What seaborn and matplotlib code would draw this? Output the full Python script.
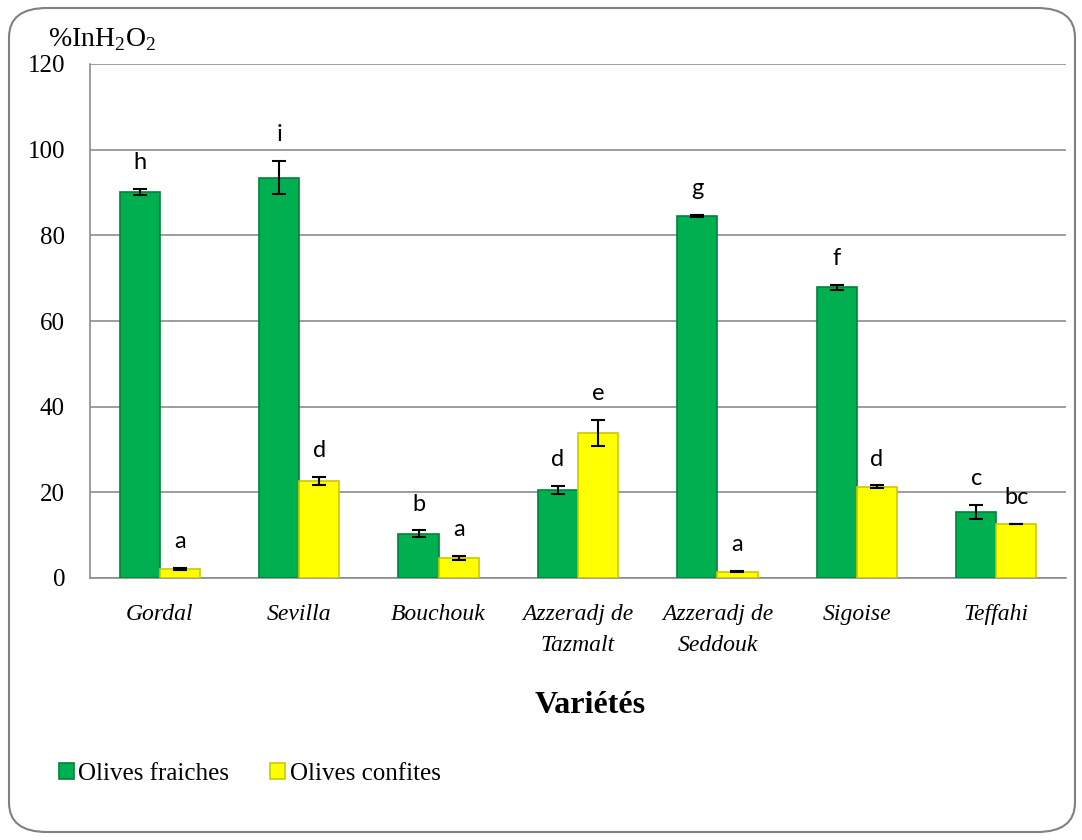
import pandas as pd
import matplotlib.pyplot as plt
import seaborn as sns
from matplotlib.patches import FancyBboxPatch, Patch

# données
varietes = ['Gordal', 'Sevilla', 'Bouchouk', 'Azzeradj de\nTazmalt',
            'Azzeradj de\nSeddouk', 'Sigoise', 'Teffahi']
fraiches = [90.1, 93.5, 10.3, 20.5, 84.5, 67.9, 15.4]
fraiches_err = [0.7, 3.9, 0.8, 1.0, 0.2, 0.6, 1.6]
confites = [2.1, 22.6, 4.7, 33.9, 1.5, 21.3, 12.6]
confites_err = [0.3, 1.0, 0.5, 3.0, 0.1, 0.3, 0.1]
lettres_fraiches = ['h', 'i', 'b', 'd', 'g', 'f', 'c']
lettres_confites = ['a', 'd', 'a', 'e', 'a', 'd', 'bc']
series = ['Olives fraiches', 'Olives confites']
y_ticks = [0, 20, 40, 60, 80, 100, 120]

sns.set_style('white')
plt.rcParams['font.family'] = ['Liberation Serif', 'DejaVu Serif']
plt.rcParams['mathtext.fontset'] = 'custom'
plt.rcParams['mathtext.rm'] = 'Liberation Serif'
plt.rcParams['text.color'] = 'black'
plt.rcParams['axes.labelcolor'] = 'black'

df = pd.DataFrame({
    'Variété': varietes * 2,
    'Type': [series[0]] * 7 + [series[1]] * 7,
    'Valeur': fraiches + confites,
})

couleurs = {series[0]: '#00B050', series[1]: '#FFFF00'}
bords = {series[0]: '#00823B', series[1]: '#C9C900'}

fig = plt.figure(figsize=(10.82, 8.4), dpi=100)
ax = fig.add_axes([90 / 1082, 1 - 578 / 840, (1066 - 90) / 1082, (578 - 64) / 840])

sns.barplot(data=df, x='Variété', y='Valeur', hue='Type', palette=couleurs,
            saturation=1, width=0.575, errorbar=None, legend=False, ax=ax, zorder=3)

erreurs = [fraiches_err, confites_err]
lettres = [lettres_fraiches, lettres_confites]
valeurs = [fraiches, confites]
conteneurs = list(ax.containers)
for k, cont in enumerate(conteneurs):
    for i, bar in enumerate(cont):
        bar.set_edgecolor(bords[series[k]])
        bar.set_linewidth(1.2)
        xc = bar.get_x() + bar.get_width() / 2
        ax.errorbar(xc, valeurs[k][i], yerr=erreurs[k][i], color='black',
                    capsize=5, capthick=1.5, elinewidth=1.5, zorder=4)
        ax.annotate(lettres[k][i], (xc, valeurs[k][i] + erreurs[k][i]),
                    xytext=(0, 19), textcoords='offset points',
                    ha='center', va='center', fontsize=17, color='black',
                    family=['Lato', 'DejaVu Sans'])

ax.set_ylim(0, 120)
ax.set_yticks(y_ticks)
ax.set_xlim(-0.5, 6.5)
ax.set_axisbelow(True)
ax.yaxis.grid(True, color='#8c8c8c', linewidth=1.2)
ax.set_xticks([x + 0.5 for x in range(-1, 7)], minor=True)
ax.tick_params(axis='x', which='major', length=0, pad=19, labelcolor='black')
ax.tick_params(axis='x', which='minor', length=6, color='#8c8c8c', width=1.2)
ax.tick_params(axis='y', length=7, color='#8c8c8c', width=1.2, pad=11, labelcolor='black')
for lab in ax.get_yticklabels():
    lab.set_fontsize(18)
for lab in ax.get_xticklabels():
    lab.set_fontsize(17)
    lab.set_fontstyle('italic')
    lab.set_linespacing(1.6)
for s in ['top', 'right']:
    ax.spines[s].set_visible(False)
for s in ['left', 'bottom']:
    ax.spines[s].set_color('#8c8c8c')
    ax.spines[s].set_linewidth(1.2)

ax.set_ylabel('')
ax.set_xlabel('Variétés', fontsize=23, fontweight='bold', labelpad=25, color='black')
ax.xaxis.label.set_x((590 - 90) / 976)

fig.text(48 / 1082, 1 - 40 / 840, r'%InH$_2$O$_2$', fontsize=20, va='center', ha='left',
         color='black')

handles = [Patch(facecolor=couleurs[s], edgecolor=bords[s], linewidth=1.2) for s in series]
fig.legend(handles, series, loc='center left', bbox_to_anchor=(36 / 1082, 1 - 774 / 840),
           ncol=2, frameon=False, fontsize=18, handlelength=0.6, handleheight=0.6,
           handletextpad=0.2, columnspacing=1.6, labelcolor='black')

cadre = FancyBboxPatch((9 / 1082, 8 / 840), 1066 / 1082, 824 / 840,
                       boxstyle='round,pad=0,rounding_size=0.035',
                       transform=fig.transFigure, facecolor='none',
                       edgecolor='#808080', linewidth=1.5, zorder=0)
fig.patches.append(cadre)

fig.savefig('out.png', dpi=100)
